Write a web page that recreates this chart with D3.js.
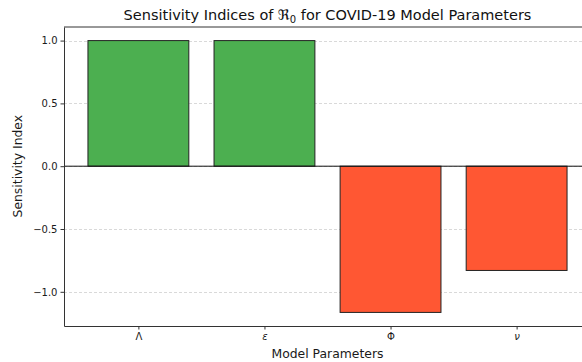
<!DOCTYPE html>
<html>
<head>
<meta charset="utf-8">
<script src="https://cdn.jsdelivr.net/npm/d3@7"></script>
<style>
    body { margin: 0; background: #fff; overflow: hidden; }
    svg { display: block; font-family: "DejaVu Sans", sans-serif; overflow: hidden; }
    .grid line { stroke: #cfcfcf; stroke-dasharray: 3,2; stroke-width: 0.8; }
</style>
</head>
<body>
<div id="chart-area"></div>
<script>
// Data
var params = ["\u039B", "\u03B5", "\u03A6", "\u03BD"];
var italicParams = [false, true, false, true];
var indices = [1.0, 1.0, -1.164, -0.83];
var yTicks = [-1.0, -0.5, 0.0, 0.5, 1.0];

// the axes run past the right edge of the picture (cropped figure)
var margin = { left:64, right:-9, top:27, bottom:36 },
    width = 582 - margin.left - margin.right,
    height = 362 - margin.top - margin.bottom;

var svg = d3.select("#chart-area").append("svg")
    .attr("width", 582)
    .attr("height", 362);

// Clip everything at the picture edge
svg.append("defs").append("clipPath")
    .attr("id", "clip")
    .append("rect")
    .attr("x", -margin.left)
    .attr("y", -margin.top)
    .attr("width", 582)
    .attr("height", 362);

var g = svg.append("g")
    .attr("transform", "translate(" + margin.left + ", " + margin.top + ")")
    .attr("clip-path", "url(#clip)");

// Scales (matplotlib style 5% margins)
var x_scale = d3.scaleLinear()
    .domain([-0.59, 3.59])
    .range([0, width]);
var yMin = d3.min(indices), yMax = d3.max(indices), pad = 0.05 * (yMax - yMin);
var y_scale = d3.scaleLinear()
    .domain([yMin - pad, yMax + pad])
    .range([height, 0]);

// Grid
g.append("g")
    .attr("class", "grid")
    .selectAll("line")
    .data(yTicks)
    .enter().append("line")
    .attr("x1", 0)
    .attr("x2", width)
    .attr("y1", function(d) { return Math.round(y_scale(d)) + 0.5; })
    .attr("y2", function(d) { return Math.round(y_scale(d)) + 0.5; });

// Bars
g.selectAll(".bar")
    .data(indices)
    .enter().append("rect")
    .attr("class", "bar")
    .attr("x", function(d, i) { return x_scale(i - 0.4); })
    .attr("width", x_scale(0.8) - x_scale(0))
    .attr("y", function(d) { return y_scale(Math.max(0, d)); })
    .attr("height", function(d) { return Math.abs(y_scale(d) - y_scale(0)); })
    .attr("fill", function(d) { return d >= 0 ? "#4CAF50" : "#FF5733"; })
    .attr("stroke", "#222")
    .attr("stroke-width", 1);

// Zero line
g.append("line")
    .attr("x1", 0)
    .attr("x2", width)
    .attr("y1", y_scale(0))
    .attr("y2", y_scale(0))
    .attr("stroke", "#111")
    .attr("stroke-width", 1);

// Axes
var xAxisCall = d3.axisBottom(x_scale)
    .tickValues(d3.range(params.length))
    .tickSizeInner(3.5)
    .tickSizeOuter(0)
    .tickPadding(3)
    .tickFormat(function(d) { return params[d]; });
var yAxisCall = d3.axisLeft(y_scale)
    .tickValues(yTicks)
    .tickSizeInner(3.5)
    .tickSizeOuter(0)
    .tickPadding(3)
    .tickFormat(d3.format(".1f"));

var xAxis = g.append("g")
    .attr("class", "x axis")
    .attr("transform", "translate(0," + height + ")")
    .call(xAxisCall);
var yAxis = g.append("g")
    .attr("class", "y axis")
    .call(yAxisCall);

xAxis.selectAll("text")
    .style("font-style", function(d) { return italicParams[d] ? "italic" : "normal"; });

g.selectAll(".axis text")
    .attr("font-size", "10px")
    .attr("fill", "#1a1a1a")
    .attr("font-family", "DejaVu Sans");
g.selectAll(".axis .tick line").attr("stroke", "#333");
g.selectAll(".axis .domain").attr("stroke", "#333");

// Top spine
g.append("line")
    .attr("x1", 0).attr("x2", width)
    .attr("y1", 0).attr("y2", 0)
    .attr("stroke", "#333");

// Title
var title = svg.append("text")
    .attr("x", margin.left + x_scale(1.5))
    .attr("y", 20)
    .attr("text-anchor", "middle")
    .attr("font-size", "14.5px")
    .attr("fill", "#111");
title.append("tspan").text("Sensitivity Indices of \u211C");
title.append("tspan").attr("font-size", "10px").attr("dy", 3).text("0");
title.append("tspan").attr("dy", -3).text(" for COVID-19 Model Parameters");

// X-Axis Label
svg.append("text")
    .attr("x", margin.left + x_scale(1.5))
    .attr("y", 358)
    .attr("font-size", "12.4px")
    .attr("text-anchor", "middle")
    .attr("fill", "#1a1a1a")
    .text("Model Parameters");

// Y-Axis label
svg.append("text")
    .attr("transform", "rotate(-90)")
    .attr("x", -(margin.top + y_scale(0)))
    .attr("y", 22)
    .attr("font-size", "12.4px")
    .attr("text-anchor", "middle")
    .attr("fill", "#1a1a1a")
    .text("Sensitivity Index");
</script>
</body>
</html>
